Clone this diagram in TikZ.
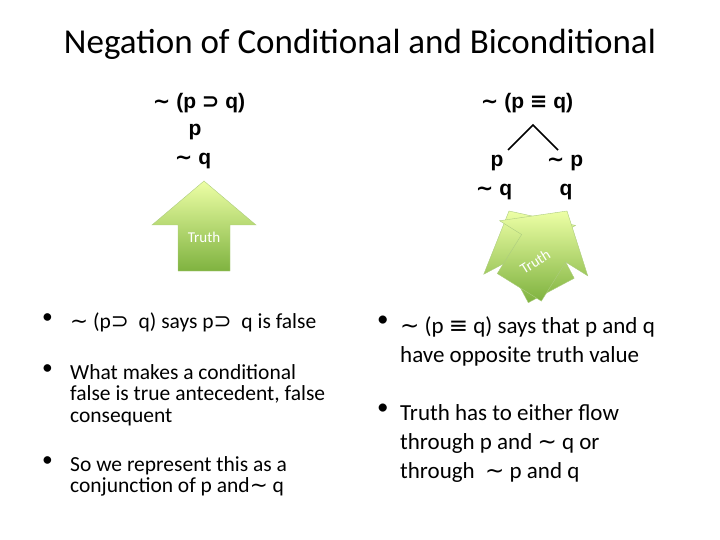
\documentclass[tikz,border=0pt]{standalone}
\usepackage{fontspec}
\setmainfont{Carlito}
\newfontfamily\fsym{DejaVu Sans}
\newfontfamily\fform{Liberation Sans}
\newcommand{\mng}{{\fsym\bfseries \char"223C}}
\newcommand{\mngn}{{\fsym \char"223C}}
\newcommand{\msps}{{\fsym\bfseries ⊃}}
\newcommand{\mspn}{{\fsym ⊃}}
\newcommand{\meqv}{{\fsym\bfseries ≡}}
\newcommand{\meqn}{{\fsym ≡}}
\newcommand{\arrowshape}{(0,0) -- (52,44) -- (26,44) -- (26,90) -- (-26,90) -- (-26,44) -- (-52,44) -- cycle}
\begin{document}
\begin{tikzpicture}[x=1pt,y=-1pt,
  form/.style={font=\fform\bfseries\fontsize{21}{24}\selectfont, inner sep=0pt},
  btxt/.style={anchor=north west, align=left, inner sep=0pt, font=\fontsize{21.5}{21.5}\selectfont},
  btxtb/.style={anchor=north west, align=left, inner sep=0pt, font=\fontsize{23}{29}\selectfont},
  bigarrow/.style={top color=green!20!yellow!35!white, bottom color=green!45!yellow!60!black!75, draw=green!40!yellow!60!black!50, line width=0.4pt},
  truthlbl/.style={text=white, font=\fontsize{15}{17}\selectfont, inner sep=0pt}]
\useasboundingbox (0,0) rectangle (720,540);
\node[font=\fontsize{35}{38}\selectfont] (title) at (360,44) {Negation of Conditional and Biconditional};
% left formulas
\node[form] (l1) at (199,103) {\mng\ (p \msps\ q)};
\node[form] (l2) at (195,132) {p};
\node[form] (l3) at (193,161) {\mng\ q};
% right formulas
\node[form] (r1) at (527,103) {\mng\ (p \meqv\ q)};
\node[form] (r2) at (497,163) {p};
\node[form] (r3) at (565,163) {\mng\ p};
\node[form] (r4) at (494,192) {\mng\ q};
\node[form] (r5) at (566,192) {q};
\coordinate (t1) at (508,150);
\coordinate (t2) at (533,125);
\coordinate (t3) at (558,150);
\draw[line width=1.6pt] (t1) -- (t2) -- (t3);
% arrows
\begin{scope}[shift={(204,181)}]
  \shade[bigarrow] \arrowshape;
  \node[truthlbl] (a1) at (0,56) {Truth};
\end{scope}
\begin{scope}[shift={(509,211)}, rotate=28]
  \shade[bigarrow] \arrowshape;
  \node[truthlbl, rotate=-28] (a2) at (0,60) {Truth};
\end{scope}
\begin{scope}[shift={(567,211)}, rotate=-32]
  \shade[bigarrow] \arrowshape;
  \node[truthlbl, rotate=32] (a3) at (0,60) {Truth};
\end{scope}
% left bullets
\node[btxt] (lb1d) at (42,313) {•};
\node[btxt] (lb1) at (70,313) {\mngn\ (p\mspn\ \ q) says p\mspn\ \ q is false};
\node[btxt] (lb2d) at (42,364) {•};
\node[btxt] (lb2) at (70,364) {What makes a conditional\\false is true antecedent, false\\consequent};
\node[btxt] (lb3d) at (42,456) {•};
\node[btxt] (lb3) at (70,456) {So we represent this as a\\conjunction of p and\mngn\ q};
% right bullets
\node[btxtb] (rb1d) at (377,316) {•};
\node[btxtb] (rb1) at (400,316) {\mngn\ (p \meqn\ q) says that p and q\\have opposite truth value};
\node[btxtb] (rb2d) at (377,404) {•};
\node[btxtb] (rb2) at (400,404) {Truth has to either flow\\through p and \mngn\ q or\\through \ \mngn\ p and q};
\end{tikzpicture}
\end{document}
